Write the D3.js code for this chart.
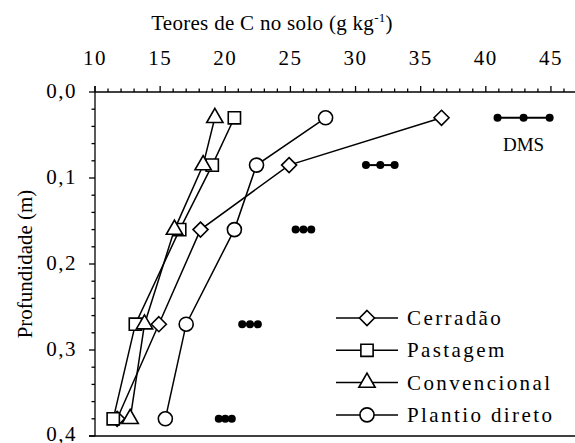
<!DOCTYPE html>
<html>
<head>
<meta charset="utf-8">
<script src="https://cdn.jsdelivr.net/npm/d3@7"></script>
<style>
  html, body { margin: 0; padding: 0; background: #fff; }
  svg { display: block; font-family: "Liberation Serif", "Times New Roman", serif; }
</style>
</head>
<body>
<div id="chart"></div>
<script>
// --- data ---
const depths = [0.03, 0.085, 0.16, 0.27, 0.38];
const seriesNames = ["Cerradão", "Pastagem", "Convencional", "Plantio direto"];
const symbols = ["diamond", "square", "triangle", "circle"];
const cerradao = [36.6, 24.9, 18.1, 14.9, 11.7];
const pastagem = [20.7, 19.0, 16.5, 13.1, 11.4];
const convencional = [19.2, 18.3, 16.1, 13.8, 12.7];
const plantioDireto = [27.7, 22.4, 20.7, 17.0, 15.4];
// DMS (least significant difference) bars: centre and half width per depth
const dmsCenter = [42.9, 31.9, 26.0, 21.9, 20.0];
const dmsHalf = [2.0, 1.1, 0.6, 0.6, 0.5];
const xTicks = [10, 15, 20, 25, 30, 35, 40, 45];
const yTicks = [0, 0.1, 0.2, 0.3, 0.4];

const W = 575, H = 443;
const svg = d3.select("#chart").append("svg").attr("width", W).attr("height", H);

const x = d3.scaleLinear().domain([10, 47]).range([95, 577]);
const y = d3.scaleLinear().domain([0, 0.4]).range([92, 436]);

const values = [cerradao, pastagem, convencional, plantioDireto];
const series = seriesNames.map((n, i) => ({
  name: n, sym: symbols[i],
  pts: depths.map((d, j) => ({ x: values[i][j], y: d }))
}));

// --- axes ---
const ax = svg.append("g").attr("stroke", "#000").attr("stroke-width", 1.3);
ax.append("line").attr("x1", x(10)).attr("x2", W).attr("y1", y(0)).attr("y2", y(0));
ax.append("line").attr("x1", x(10)).attr("x2", x(10)).attr("y1", y(0) - 6).attr("y2", y(0.4));
ax.append("line").attr("x1", x(10) - 6).attr("x2", W).attr("y1", y(0.4)).attr("y2", y(0.4));

// top ticks (outward = up)
ax.selectAll(".xm").data(d3.range(10, 47, 1)).join("line")
  .attr("x1", d => x(d)).attr("x2", d => x(d))
  .attr("y1", y(0)).attr("y2", d => y(0) - (d % 5 === 0 ? 6 : 3.5));
// left ticks (outward = left)
ax.selectAll(".ym").data(d3.range(0, 0.401, 0.02)).join("line")
  .attr("y1", d => y(d)).attr("y2", d => y(d))
  .attr("x1", x(10)).attr("x2", (d, i) => x(10) - (i % 5 === 0 ? 6 : 3.5));

svg.selectAll(".xl").data(xTicks).join("text")
  .attr("x", d => x(d)).attr("y", 65)
  .attr("text-anchor", "middle").attr("font-size", 21).attr("letter-spacing", 1.5)
  .text(d => d);
svg.selectAll(".yl").data(yTicks).join("text")
  .attr("x", 77).attr("y", (d, i) => i === 4 ? 441 : y(d) + 6)
  .attr("text-anchor", "end").attr("font-size", 21).attr("letter-spacing", 1.5)
  .text(d => d3.format(".1f")(d).replace(".", ","));

// axis titles
const t = svg.append("text").attr("x", 272).attr("y", 30)
  .attr("text-anchor", "middle").attr("font-size", 21).attr("letter-spacing", 0.3);
t.append("tspan").text("Teores de C no solo (g kg");
t.append("tspan").attr("font-size", 13).attr("dy", -8).text("-1");
t.append("tspan").attr("dy", 8).text(")");
svg.append("text").attr("transform", "translate(32,264) rotate(-90)")
  .attr("text-anchor", "middle").attr("font-size", 21).text("Profundidade (m)");

// --- lines + markers ---
const line = d3.line().x(d => x(d.x)).y(d => y(d.y));
const symType = { diamond: d3.symbolDiamond, square: d3.symbolSquare, triangle: d3.symbolTriangle, circle: d3.symbolCircle };
const symSize = { diamond: 95, square: 150, triangle: 115, circle: 155 };
function marker(g, s) {
  if (s === "diamond") {
    return g.append("path").attr("d", "M0,-7.5L7.5,0L0,7.5L-7.5,0Z");
  }
  return g.append("path").attr("d", d3.symbol(symType[s], symSize[s])());
}

const plot = svg.append("g");
series.forEach(s => {
  plot.append("path").datum(s.pts).attr("d", line)
    .attr("fill", "none").attr("stroke", "#000").attr("stroke-width", 1.5);
});
series.forEach(s => {
  s.pts.forEach(p => {
    const g = plot.append("g").attr("transform", `translate(${x(p.x)},${y(p.y)})`);
    marker(g, s.sym).attr("fill", "#fff").attr("stroke", "#000").attr("stroke-width", 1.6);
  });
});

// --- DMS bars ---
const dms = svg.append("g");
depths.forEach((d, i) => {
  const a = dmsCenter[i] - dmsHalf[i], b = dmsCenter[i] + dmsHalf[i];
  dms.append("line").attr("x1", x(a)).attr("x2", x(b)).attr("y1", y(d)).attr("y2", y(d))
    .attr("stroke", "#000").attr("stroke-width", 2);
  [a, dmsCenter[i], b].forEach(v => dms.append("circle").attr("cx", x(v)).attr("cy", y(d)).attr("r", 4).attr("fill", "#000"));
});
svg.append("text").attr("x", x(dmsCenter[0])).attr("y", y(depths[0]) + 33)
  .attr("text-anchor", "middle").attr("font-size", 19).text("DMS");

// --- legend ---
const lg = svg.append("g");
seriesNames.forEach((n, i) => {
  const yy = 318 + i * 32.3;
  lg.append("line").attr("x1", 336).attr("x2", 398).attr("y1", yy).attr("y2", yy)
    .attr("stroke", "#000").attr("stroke-width", 1.5);
  const g = lg.append("g").attr("transform", `translate(367,${yy})`);
  marker(g, symbols[i]).attr("fill", "#fff").attr("stroke", "#000").attr("stroke-width", 1.6);
  lg.append("text").attr("x", 407).attr("y", yy + 7).attr("font-size", 21).attr("letter-spacing", 2.4).text(n);
});
</script>
</body>
</html>
